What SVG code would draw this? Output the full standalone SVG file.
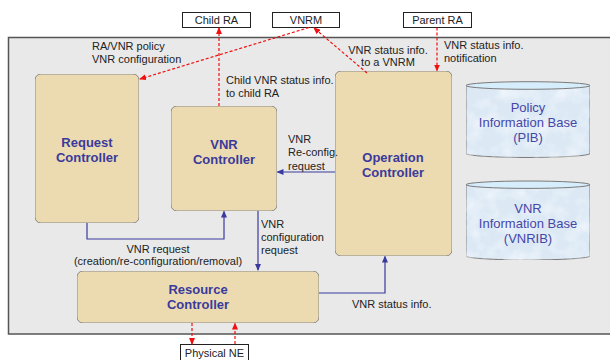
<svg xmlns="http://www.w3.org/2000/svg" width="610" height="360" viewBox="0 0 610 360">
<defs>
<style>
.lbl{font-family:"Liberation Sans",Arial,sans-serif;font-size:11px;fill:#222}
.nl{font-family:"Liberation Sans",Arial,sans-serif;font-size:13px;font-weight:bold;fill:#3a3a9c;text-anchor:middle}
.dl{font-family:"Liberation Sans",Arial,sans-serif;font-size:13px;fill:#4646a8;text-anchor:middle}
.ext{fill:#fff;stroke:#222;stroke-width:1}
.ctl{fill:#ecdab1;stroke:#8a8a8a;stroke-width:1}
.cyl{fill:#dce9f5;stroke:#7a7a7a;stroke-width:1}
.cyltop{fill:#d6edfb;stroke:#7a7a7a;stroke-width:1}
.blue{fill:none;stroke:#3a3a9e;stroke-width:1.2}
.red{fill:none;stroke:#f01010;stroke-width:1.2;stroke-dasharray:3 2}
</style>
<filter id="paper" x="0" y="0" width="100%" height="100%">
<feTurbulence type="fractalNoise" baseFrequency="0.05" numOctaves="4" seed="4" result="n"/>
<feColorMatrix in="n" type="matrix" values="0 0 0 0 0.80  0 0 0 0 0.69  0 0 0 0 0.45  0 0 0 1.3 -0.5" result="dark"/>
<feColorMatrix in="n" type="matrix" values="0 0 0 0 0.97  0 0 0 0 0.93  0 0 0 0 0.82  0 0 0 -1.3 0.8" result="light"/>
<feMerge result="m"><feMergeNode in="SourceGraphic"/><feMergeNode in="dark"/><feMergeNode in="light"/></feMerge>
<feComposite in="m" in2="SourceGraphic" operator="in" result="c"/>
<feMerge><feMergeNode in="c"/><feMergeNode in="SourceGraphic" /></feMerge>
</filter>
<filter id="ice" x="0" y="0" width="100%" height="100%">
<feTurbulence type="fractalNoise" baseFrequency="0.06" numOctaves="3" seed="7" result="n"/>
<feColorMatrix in="n" type="matrix" values="0 0 0 0 0.97  0 0 0 0 0.98  0 0 0 0 1  0 0 0 1.2 -0.5" result="spots"/>
<feComposite in="spots" in2="SourceGraphic" operator="in" result="s2"/>
<feMerge><feMergeNode in="SourceGraphic"/><feMergeNode in="s2"/></feMerge>
</filter>
<marker id="ab" markerWidth="7" markerHeight="6" refX="6" refY="3" orient="auto" markerUnits="userSpaceOnUse"><path d="M0,0 L7,3 L0,6 z" fill="#3a3a9e"/></marker>
<marker id="ar" markerWidth="7" markerHeight="6" refX="6" refY="3" orient="auto" markerUnits="userSpaceOnUse"><path d="M0,0 L7,3 L0,6 z" fill="#f01010"/></marker>
</defs>

<rect x="0" y="0" width="610" height="360" fill="#fff"/>
<rect id="container" x="8.5" y="37.5" width="610" height="296.5" fill="#e9e9e9" stroke="#555" stroke-width="1.5"/>

<g id="child-ra"><rect class="ext" x="182.5" y="12.5" width="68" height="15"/><text class="lbl" x="216.5" y="24" text-anchor="middle">Child RA</text></g>
<g id="vnrm"><rect class="ext" x="272.5" y="12.5" width="67" height="15"/><text class="lbl" x="306" y="24" text-anchor="middle">VNRM</text></g>
<g id="parent-ra"><rect class="ext" x="403.5" y="12.5" width="68" height="15"/><text class="lbl" x="437.5" y="24" text-anchor="middle">Parent RA</text></g>
<g id="physical-ne"><rect class="ext" x="180.5" y="344.5" width="68" height="17"/><text class="lbl" x="214.5" y="356.5" text-anchor="middle">Physical NE</text></g>

<g id="request-controller"><rect class="ctl" filter="url(#paper)" x="35" y="74" width="104" height="149" rx="6"/><text class="nl" x="87" y="146.5">Request</text><text class="nl" x="87" y="161.5">Controller</text></g>
<g id="vnr-controller"><rect class="ctl" filter="url(#paper)" x="171" y="106" width="106" height="105" rx="6"/><text class="nl" x="224" y="148.5">VNR</text><text class="nl" x="224" y="163.5">Controller</text></g>
<g id="operation-controller"><rect class="ctl" filter="url(#paper)" x="335" y="71" width="117" height="185" rx="6"/><text class="nl" x="393" y="161.5">Operation</text><text class="nl" x="393" y="176.5">Controller</text></g>
<g id="resource-controller"><rect class="ctl" filter="url(#paper)" x="77" y="271" width="242" height="52" rx="6"/><text class="nl" x="198" y="293.5">Resource</text><text class="nl" x="198" y="309">Controller</text></g>

<g id="pib"><path class="cyl" filter="url(#ice)" d="M466,85.5 V153.5 A62,4 0 0 0 590,153.5 V85.5 Z"/><ellipse class="cyltop" cx="528" cy="85.5" rx="62" ry="3.8"/><text class="dl" x="528" y="111.5">Policy</text><text class="dl" x="528" y="126.5">Information Base</text><text class="dl" x="528" y="141.5">(PIB)</text></g>
<g id="vnrib"><path class="cyl" filter="url(#ice)" d="M466,184.7 V256 A62,4 0 0 0 590,256 V184.7 Z"/><ellipse class="cyltop" cx="528" cy="184.7" rx="62" ry="3.7"/><text class="dl" x="528" y="212.5">VNR</text><text class="dl" x="528" y="227.5">Information Base</text><text class="dl" x="528" y="242.5">(VNRIB)</text></g>

<g id="connectors">
<path class="blue" marker-end="url(#ab)" d="M87,223 V239 H224 V211.5"/>
<path class="blue" marker-end="url(#ab)" d="M335,172 H277.5"/>
<path class="blue" marker-end="url(#ab)" d="M258,211 V270"/>
<path class="blue" marker-end="url(#ab)" d="M319,293 H385 V256.5"/>
<path class="red" marker-end="url(#ar)" d="M309,27.5 L140,79"/>
<path class="red" marker-end="url(#ar)" d="M219,106 V28"/>
<path class="red" marker-end="url(#ar)" d="M367,73 L314,28"/>
<path class="red" marker-end="url(#ar)" d="M437,27.5 V70.5"/>
<path class="red" marker-end="url(#ar)" d="M192,323 V344"/>
<path class="red" marker-end="url(#ar)" d="M235,344 V323.5"/>
</g>

<g id="labels">
<text class="lbl" x="92" y="49.5">RA/VNR policy</text>
<text class="lbl" x="92" y="62.5">VNR configuration</text>
<text class="lbl" x="226" y="84">Child VNR status info.</text>
<text class="lbl" x="226" y="97">to child RA</text>
<text class="lbl" x="388" y="53.5" text-anchor="middle">VNR status info.</text>
<text class="lbl" x="388" y="66" text-anchor="middle">to a VNRM</text>
<text class="lbl" x="444" y="48.5">VNR status info.</text>
<text class="lbl" x="444" y="61.5">notification</text>
<text class="lbl" x="288" y="143">VNR</text>
<text class="lbl" x="288" y="156.3">Re-config.</text>
<text class="lbl" x="288" y="169.5">request</text>
<text class="lbl" x="261" y="227.5">VNR</text>
<text class="lbl" x="261" y="240.8">configuration</text>
<text class="lbl" x="261" y="254">request</text>
<text class="lbl" x="158" y="252.5" text-anchor="middle">VNR request</text>
<text class="lbl" x="158" y="265" text-anchor="middle">(creation/re-configuration/removal)</text>
<text class="lbl" x="352" y="307.5">VNR status info.</text>
</g>
</svg>
